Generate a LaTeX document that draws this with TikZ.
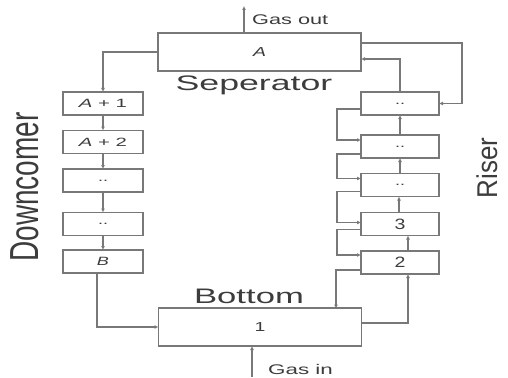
\documentclass[tikz,border=0pt]{standalone}
\usepackage{fontspec}
\setmainfont{Liberation Sans}
\usetikzlibrary{arrows.meta}
\definecolor{linegray}{RGB}{120,120,120}
\definecolor{txtgray}{RGB}{60,60,60}
\tikzset{
  cell/.style={draw=linegray, line width=1.2pt, fill=white, inner sep=0pt, outer sep=0pt,
    minimum width=80pt, minimum height=23pt, text=txtgray, font=\fontsize{12}{12}\selectfont},
  tank/.style={cell, minimum width=203pt, minimum height=38pt, font=\fontsize{13}{13}\selectfont},
  flow/.style={draw=linegray, line width=1.2pt, -{Latex[length=4pt,width=4pt]}},
  title/.style={text=txtgray, inner sep=0pt},
  small/.style={text=txtgray, inner sep=0pt, font=\fontsize{14}{14}\selectfont},
}
\newcommand{\wide}[2]{\scalebox{#1}[1]{#2}}
\newcommand{\tall}[2]{\scalebox{1}[#1]{#2}}
\begin{document}
\begin{tikzpicture}[x=1pt, y=-1pt]
\useasboundingbox (0,0) rectangle (508,377);

% separator and bottom vessels
\node[tank] (sep) at (259.5,52) {\wide{1.5}{\textit{A}}};
\node[tank] (bot) at (260,327) {\wide{1.5}{1}};

% downcomer cells
\node[cell] (d1) at (103,103.5) {\wide{1.7}{\textit{A} + 1}};
\node[cell] (d2) at (103,142) {\wide{1.7}{\textit{A} + 2}};
\node[cell] (d3) at (103,180.5) {\wide{1.5}{..}};
\node[cell] (d4) at (103,224) {\wide{1.5}{..}};
\node[cell] (d5) at (103,261.5) {\wide{1.5}{\textit{B}}};

% riser cells
\node[cell, minimum width=78pt] (r1) at (400,103.5) {\wide{1.5}{..}};
\node[cell, minimum width=78pt] (r2) at (400,146.5) {\wide{1.5}{..}};
\node[cell, minimum width=78pt] (r3) at (400,185) {\wide{1.5}{..}};
\node[cell, minimum width=78pt, font=\fontsize{15}{15}\selectfont] (r4) at (400,224) {\wide{1.3}{3}};
\node[cell, minimum width=78pt, font=\fontsize{15}{15}\selectfont] (r5) at (400,262.5) {\wide{1.3}{2}};

% section titles
\node[title, font=\fontsize{21}{21}\selectfont] (septitle) at (254,85) {\wide{1.7}{Seperator}};
\node[title, font=\fontsize{21}{21}\selectfont] (bottitle) at (249,296) {\wide{1.65}{Bottom}};
\node[title, rotate=90, font=\fontsize{28}{28}\selectfont] (dctitle) at (25,187) {\tall{1.45}{Downcomer}};
\node[title, rotate=90, font=\fontsize{26}{26}\selectfont] (rtitle) at (487,168) {\tall{1.1}{Riser}};

% gas in / out
\coordinate (gout) at (244,6);
\coordinate (gin) at (252,377);
\draw[flow] (sep.north -| gout) -- (gout);
\node[small, anchor=west] (goutlbl) at (252,20) {\wide{1.55}{Gas out}};
\draw[flow] (gin) -- (gin |- bot.south);
\node[small, anchor=west] (ginlbl) at (268,369) {\wide{1.6}{Gas in}};

% downcomer path
\draw[flow] (sep.west |- 0,52) -| (d1.north);
\draw[flow] (d1) -- (d2);
\draw[flow] (d2) -- (d3);
\draw[flow] (d3) -- (d4);
\draw[flow] (d4) -- (d5);
\coordinate (dturn) at (97,327);
\draw[flow] (d5.south -| dturn) -- (dturn) -- (bot.west);

% bottom to riser
\coordinate (bturn) at (408,323);
\draw[flow] (bot.east |- bturn) -- (bturn) -- (bturn |- r5.south);

% upward flow through riser
\draw[flow] (r5.north -| bturn) -- (bturn |- r4.south);
\draw[flow] ([xshift=-1pt]r4.north) -- ([xshift=-1pt]r3.south);
\draw[flow] (r3) -- (r2);
\draw[flow] (r2) -- (r1);
\coordinate (rtop) at (400,59);
\draw[flow] (r1.north) -- (rtop) -- (sep.east |- rtop);

% separator overflow to top riser cell
\coordinate (ovr) at (462,43);
\draw[flow] (sep.east |- ovr) -- (ovr) |- (r1.east);

% side loops on the riser
\draw[flow] ([yshift=6pt]r1.south west) -- ++(-24,0) |- ([yshift=-5pt]r2.north west);
\draw[flow] ([yshift=4pt]r2.south west) -- ++(-24,0) |- ([yshift=-5pt]r3.north west);
\draw[flow] ([yshift=5pt]r3.south west) -- ++(-24,0) |- ([yshift=-10pt]r4.north west);
\draw[flow] ([yshift=6pt]r4.south west) -- ++(-24,0) |- ([yshift=-4pt]r5.north west);
\draw[flow] ([yshift=4pt]r5.south west) -- ++(-25,0) -- ++(0,38.5);
\end{tikzpicture}
\end{document}
